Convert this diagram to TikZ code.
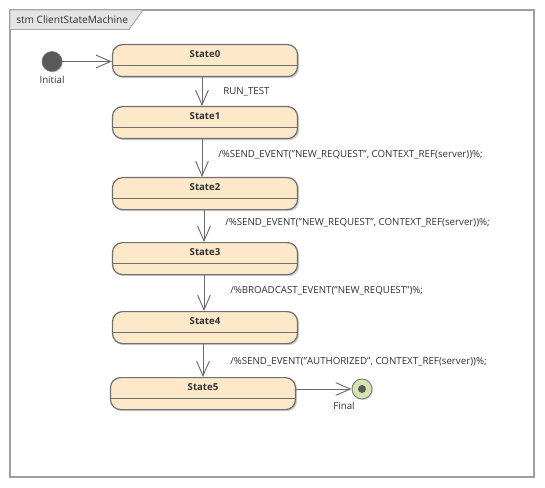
\documentclass[tikz,border=0pt]{standalone}
\usepackage{fontspec}
\setmainfont{Open Sans}
\usetikzlibrary{arrows.meta,calc,shadows}
\definecolor{stfill}{HTML}{FDE9C9}
\definecolor{stdraw}{HTML}{707070}
\definecolor{lncol}{HTML}{6A6A6A}
\definecolor{tabfill}{HTML}{E4E4E4}
\definecolor{finfill}{HTML}{D2E6AE}
\definecolor{txtcol}{HTML}{303030}
\tikzset{
  statebox/.style={draw=stdraw, line width=0.9pt, fill=stfill, rounded corners=7.5pt,
    minimum width=138.75pt, minimum height=24pt, inner sep=0pt,
    drop shadow={shadow xshift=1.2pt, shadow yshift=-1.2pt, fill=black!45, opacity=0.45}},
  stitle/.style={font=\fontsize{7.2}{9}\selectfont\bfseries, text=txtcol, inner sep=0pt},
  lbl/.style={font=\fontsize{7.3}{9}\selectfont, text=txtcol, inner sep=0pt, anchor=west},
  trans/.style={draw=lncol, line width=0.7pt, -{Straight Barb[length=11pt,width=9.5pt,line width=0.7pt]}},
}
\begin{document}
\begin{tikzpicture}[x=0.75pt,y=-0.75pt]
\useasboundingbox (0,0) rectangle (545,488);
% frame
\draw[draw=gray!75, line width=1.3pt] (10,10) rectangle (534,477);
\path[fill=tabfill, draw=gray!70, line width=0.7pt] (10,10) -- (143,10) -- (129,29.5) -- (10,29.5) -- cycle;
\node[font=\fontsize{7.6}{9}\selectfont, text=txtcol, anchor=west, inner sep=0pt] (title) at (16,20) {stm ClientStateMachine};
% initial
\node[circle, fill=black!65, draw=black!55, minimum size=15pt, inner sep=0pt,
  drop shadow={shadow xshift=0.8pt, shadow yshift=-0.8pt, fill=black!40, opacity=0.4}] (ini) at (52,61.5) {};
\node[lbl, anchor=center] (initl) at (52,80) {Initial};
% states
\foreach \n/\x/\t in {0/205/44, 1/205/106, 2/205/177, 3/205/242, 4/205/311, 5/203/377}{
  \node[statebox, anchor=north] (s\n) at (\x,\t) {};
  \draw[draw=stdraw, line width=0.7pt] ($(s\n.north west)+(0,21)$) -- ($(s\n.north east)+(0,21)$);
  \node[stitle] (s\n t) at ($(s\n.north)+(0,10)$) {State\n};
}
% final
\node[circle, fill=finfill, draw=black!50, line width=0.7pt, minimum size=15pt, inner sep=0pt,
  drop shadow={shadow xshift=0.8pt, shadow yshift=-0.8pt, fill=black!40, opacity=0.4}] (fin) at (362,389) {};
\node[circle, fill=black!65, minimum size=6pt, inner sep=0pt] (find) at (fin.center) {};
\node[lbl, anchor=center] (finl) at (344,405.5) {Final};
% transitions
\draw[trans] (ini.east) -- (s0.west |- ini.east);
\draw[trans] ($(s0.south)+(-3,0)$) -- ($(s1.north)+(-3,0)$);
\draw[trans] ($(s1.south)+(-3,0)$) -- ($(s2.north)+(-3,0)$);
\draw[trans] ($(s2.south)+(-1,0)$) -- ($(s3.north)+(-1,0)$);
\draw[trans] ($(s3.south)+(-1,0)$) -- ($(s4.north)+(-1,0)$);
\draw[trans] ($(s4.south)+(-2,0)$) -- ($(s5.north)+(0,0)$);
\draw[trans] (s5.east |- fin.west) -- (fin.west);
% labels
\node[lbl] (l0) at (223,91.5) {RUN\_TEST};
\node[lbl] (l1) at (218,155) {/\%SEND\_EVENT("NEW\_REQUEST", CONTEXT\_REF(server))\%;};
\node[lbl] (l2) at (225,222.5) {/\%SEND\_EVENT("NEW\_REQUEST", CONTEXT\_REF(server))\%;};
\node[lbl] (l3) at (230,291) {/\%BROADCAST\_EVENT("NEW\_REQUEST")\%;};
\node[lbl] (l4) at (230,362) {/\%SEND\_EVENT("AUTHORIZED", CONTEXT\_REF(server))\%;};
\end{tikzpicture}
\end{document}
